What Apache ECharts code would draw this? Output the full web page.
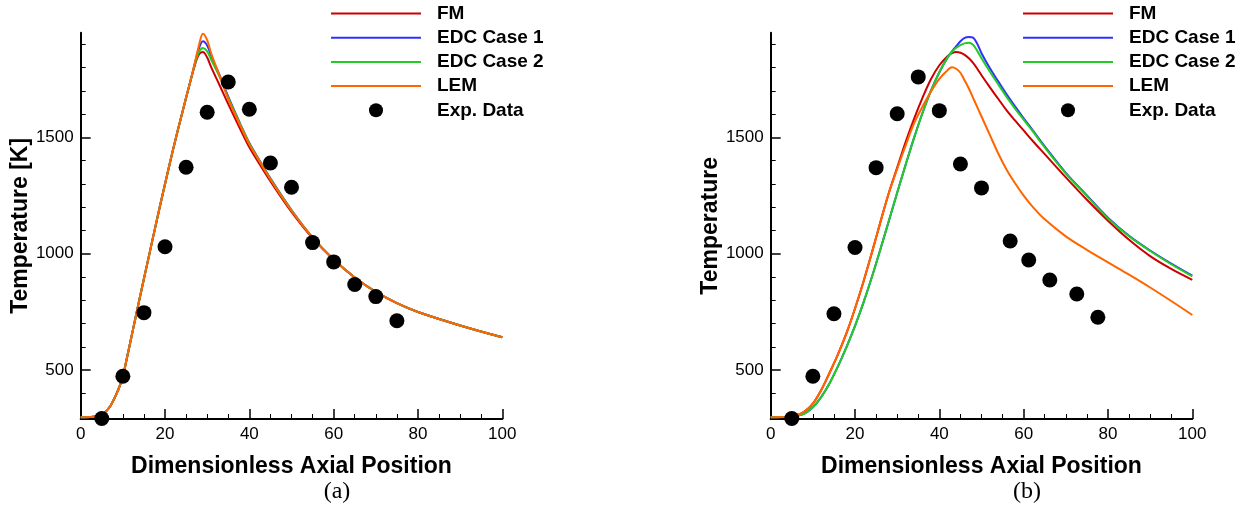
<!DOCTYPE html>
<html>
<head>
<meta charset="utf-8">
<script src="https://cdn.jsdelivr.net/npm/echarts@6/dist/echarts.min.js"></script>
<style>
html,body{margin:0;padding:0;background:#fff;}
#chart{width:1245px;height:512px;}
</style>
</head>
<body>
<div id="chart"></div>
<script>
// ---------- DATA ----------
const seriesNames = ['FM', 'EDC Case 1', 'EDC Case 2', 'LEM', 'Exp. Data'];
const xTicks = [0, 20, 40, 60, 80, 100];
const yMajorTicks = [500, 1000, 1500];
const yMinorTicks = [400, 600, 700, 800, 900, 1100, 1200, 1300, 1400, 1600, 1700, 1800, 1900];

// Panel (a)
const xsA = [0, 3, 5, 7, 9, 10, 11, 12, 13, 14, 16, 18, 20, 22, 24, 26, 27, 28, 29, 30, 31, 33, 35, 38, 40, 42, 45, 50, 55, 60, 65, 70, 75, 80, 90, 100];
const fmA   = [298, 300, 308, 345, 420, 474, 555, 640, 725, 810, 975, 1140, 1300, 1455, 1600, 1740, 1805, 1855, 1867, 1843, 1800, 1722, 1643, 1530, 1458, 1398, 1312, 1180, 1067, 975, 898, 836, 788, 750, 692, 641];
const edc1A = [298, 300, 308, 345, 420, 474, 555, 640, 725, 810, 975, 1140, 1300, 1455, 1600, 1740, 1812, 1880, 1913, 1895, 1848, 1765, 1675, 1552, 1476, 1414, 1324, 1188, 1070, 975, 898, 836, 788, 750, 692, 641];
const edc2A = [298, 300, 308, 345, 420, 474, 555, 640, 725, 810, 975, 1140, 1300, 1455, 1600, 1740, 1810, 1866, 1884, 1870, 1832, 1758, 1670, 1550, 1474, 1412, 1322, 1187, 1070, 975, 898, 836, 788, 750, 692, 641];
const lemA  = [298, 300, 308, 345, 420, 474, 555, 640, 725, 810, 975, 1140, 1300, 1455, 1600, 1740, 1815, 1892, 1946, 1918, 1858, 1762, 1665, 1545, 1470, 1410, 1320, 1185, 1070, 975, 898, 836, 788, 750, 692, 641];
const expXA = [5, 10, 15, 20, 25, 30, 35, 40, 45, 50, 55, 60, 65, 70, 75];
const expTA = [292, 474, 747, 1030, 1372, 1608, 1738, 1621, 1390, 1286, 1048, 965, 868, 816, 712];

// Panel (b)
const xsB = [0, 4, 6, 8, 10, 12, 14, 16, 18, 20, 22, 24, 26, 28, 30, 32, 34, 36, 38, 40, 42, 43, 44, 45, 46, 47, 48, 49, 50, 52, 54, 56, 58, 60, 62, 65, 70, 75, 80, 85, 90, 95, 100];
const fmB   = [298, 300, 305, 322, 356, 415, 490, 570, 660, 765, 880, 1005, 1135, 1260, 1370, 1480, 1580, 1670, 1750, 1810, 1850, 1862, 1867, 1864, 1855, 1840, 1820, 1795, 1767, 1715, 1665, 1615, 1572, 1530, 1488, 1428, 1328, 1232, 1142, 1060, 990, 935, 888];
const edc1B = [298, 300, 303, 313, 340, 385, 445, 518, 600, 690, 790, 900, 1018, 1140, 1262, 1382, 1498, 1605, 1700, 1780, 1845, 1870, 1892, 1913, 1928, 1932, 1929, 1902, 1862, 1797, 1740, 1684, 1632, 1582, 1535, 1462, 1348, 1251, 1155, 1077, 1014, 958, 906];
const edc2B = [298, 300, 303, 313, 340, 385, 445, 518, 600, 690, 790, 900, 1018, 1140, 1262, 1382, 1498, 1605, 1700, 1780, 1845, 1868, 1885, 1897, 1904, 1907, 1898, 1872, 1840, 1782, 1727, 1673, 1623, 1576, 1530, 1457, 1345, 1248, 1152, 1075, 1012, 955, 903];
const lemB  = [298, 300, 305, 322, 356, 415, 490, 570, 660, 765, 880, 1005, 1135, 1260, 1365, 1465, 1560, 1632, 1697, 1752, 1790, 1802, 1795, 1778, 1745, 1710, 1670, 1630, 1590, 1510, 1430, 1360, 1302, 1250, 1205, 1148, 1075, 1017, 963, 910, 855, 797, 737];
const expXB = [5, 10, 15, 20, 25, 30, 35, 40, 45, 50, 56.8, 61.2, 66.2, 72.6, 77.6];
const expTB = [292, 474, 742, 1027, 1370, 1602, 1760, 1615, 1386, 1283, 1055, 973, 887, 827, 727];

// ---------- STYLE ----------
const colors = ['#cc0000', '#3030ff', '#22cc22', '#ff6600'];
const FONT = "'Liberation Sans', Arial, Helvetica, sans-serif";
const yMin = 290, yMax = 1950;

function zip(xs, ys) { return xs.map((x, i) => [x, ys[i]]); }

function xAxisDef(gi) {
  return {
    type: 'value', gridIndex: gi, min: 0, max: 100, interval: 20,
    name: 'Dimensionless Axial Position', nameLocation: 'middle', nameGap: 36,
    nameTextStyle: { fontFamily: FONT, fontWeight: 'bold', fontSize: 23, color: '#000' },
    axisLine: { show: true, onZero: false, lineStyle: { color: '#000', width: 2 } },
    axisTick: { show: true, inside: true, length: 10, lineStyle: { color: '#000', width: 1.5 } },
    minorTick: { show: true, splitNumber: 4, length: 5, lineStyle: { color: '#000', width: 1 } },
    axisLabel: { fontFamily: FONT, fontSize: 17, color: '#000', margin: 7,
      customValues: xTicks, formatter: v => String(v) },
    splitLine: { show: false }, minorSplitLine: { show: false }
  };
}
function yAxisMajor(gi, name, gap) {
  return {
    type: 'value', gridIndex: gi, min: yMin, max: yMax, position: 'left',
    name: name, nameLocation: 'middle', nameGap: gap,
    nameTextStyle: { fontFamily: FONT, fontWeight: 'bold', fontSize: 23, color: '#000' },
    axisLine: { show: true, onZero: false, lineStyle: { color: '#000', width: 2 } },
    axisTick: { show: true, inside: true, length: 10, customValues: yMajorTicks, lineStyle: { color: '#000', width: 1.5 } },
    axisLabel: { fontFamily: FONT, fontSize: 17, color: '#000', margin: 7, customValues: yMajorTicks,
      formatter: v => String(v) },
    splitLine: { show: false }
  };
}
function yAxisMinor(gi) {
  return {
    type: 'value', gridIndex: gi, min: yMin, max: yMax, position: 'left', offset: 0,
    axisLine: { show: false },
    axisTick: { show: true, inside: true, length: 5, customValues: yMinorTicks, lineStyle: { color: '#000', width: 1 } },
    axisLabel: { show: false },
    splitLine: { show: false }
  };
}
function lineSeries(name, xi, yi, xs, ys, color) {
  return {
    name: name, type: 'line', xAxisIndex: xi, yAxisIndex: yi,
    data: zip(xs, ys), symbol: 'none', smooth: 0.35,
    lineStyle: { color: color, width: 2 }, itemStyle: { color: color, opacity: 0 },
    z: 2
  };
}
function scatterSeries(xi, yi, xs, ys) {
  return {
    name: 'Exp. Data', type: 'scatter', xAxisIndex: xi, yAxisIndex: yi,
    data: zip(xs, ys), symbol: 'circle', symbolSize: 15,
    itemStyle: { color: '#000', opacity: 1 }, z: 5
  };
}
function legendDef(left) {
  return {
    left: left, top: 4, orient: 'vertical', padding: 0,
    itemWidth: 90, itemHeight: 14, itemGap: 5.2,
    data: seriesNames,
    selectedMode: false,
    textStyle: { fontFamily: FONT, fontWeight: 'bold', fontSize: 19, color: '#000', padding: [0, 0, 0, 11] }
  };
}

const chart = echarts.init(document.getElementById('chart'), null, { renderer: 'canvas' });
chart.setOption({
  animation: false,
  backgroundColor: '#fff',
  grid: [
    { left: 80.7, right: 1245 - 502.3, top: 32.7, bottom: 512 - 419, containLabel: false },
    { left: 770.7, right: 1245 - 1192.3, top: 32.7, bottom: 512 - 419, containLabel: false }
  ],
  xAxis: [xAxisDef(0), xAxisDef(1)],
  yAxis: [yAxisMajor(0, 'Temperature [K]', 47), yAxisMinor(0), yAxisMajor(1, 'Temperature', 42), yAxisMinor(1)],
  legend: [legendDef(330), legendDef(1022)],
  series: [
    lineSeries('FM', 0, 0, xsA, fmA, colors[0]),
    lineSeries('EDC Case 1', 0, 0, xsA, edc1A, colors[1]),
    lineSeries('EDC Case 2', 0, 0, xsA, edc2A, colors[2]),
    lineSeries('LEM', 0, 0, xsA, lemA, colors[3]),
    scatterSeries(0, 0, expXA, expTA),
    lineSeries('FM', 1, 2, xsB, fmB, colors[0]),
    lineSeries('EDC Case 1', 1, 2, xsB, edc1B, colors[1]),
    lineSeries('EDC Case 2', 1, 2, xsB, edc2B, colors[2]),
    lineSeries('LEM', 1, 2, xsB, lemB, colors[3]),
    scatterSeries(1, 2, expXB, expTB)
  ],
  graphic: [
    { type: 'text', x: 337, y: 492, style: { text: '(a)', font: "24px 'Liberation Serif', 'DejaVu Serif', serif", fill: '#000', align: 'center', verticalAlign: 'middle' } },
    { type: 'text', x: 1027, y: 492, style: { text: '(b)', font: "24px 'Liberation Serif', 'DejaVu Serif', serif", fill: '#000', align: 'center', verticalAlign: 'middle' } }
  ]
});
</script>
</body>
</html>
